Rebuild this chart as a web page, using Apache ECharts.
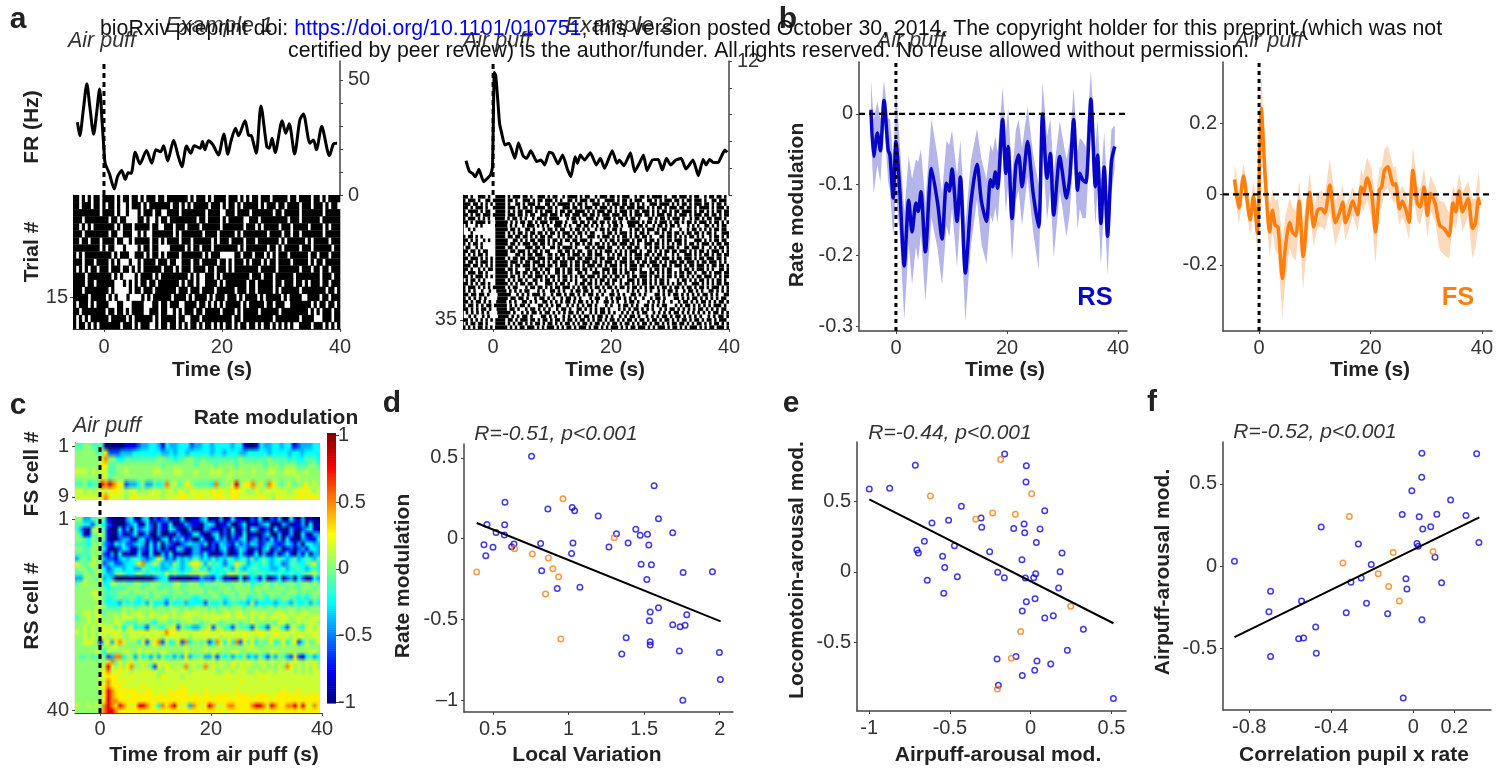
<!DOCTYPE html>
<html><head><meta charset="utf-8">
<style>html,body{margin:0;padding:0;background:#fff}#c{width:1506px;height:772px}</style>
<script src="https://cdn.jsdelivr.net/npm/echarts@6/dist/echarts.min.js"></script>
</head><body><div id="c"></div>
<script>
// ---------- DATA ----------
// [t, Hz]
const ex1Rate=[[-4.5,31.6],[-4.1,25.7],[-3.5,37],[-2.9,48.3],[-2.4,38.4],[-1.75,26.4],[-1.25,35.5],[-0.75,46],[-0.3,31],[0,19.6],[0.2,13.8],[0.9,9.4],[1.75,2.6],[2.3,8],[3,10.6],[3.6,6.8],[4.1,9.7],[4.6,9.4],[5.3,18.6],[6.1,13.5],[7.2,19.3],[8.1,13.8],[8.8,19.6],[9.6,18.8],[10.1,21.4],[10.8,14.8],[11.8,23.8],[12.6,16.7],[13.2,12.3],[14,21.3],[14.7,18.1],[15.3,21.4],[16.3,20.3],[16.7,23.2],[17.1,19.6],[17.7,23.6],[18.5,21.7],[19.4,17.4],[20.3,26.5],[21,17.7],[21.5,23.2],[22.3,29],[22.8,25.7],[23.9,32.3],[24.5,26],[25,25.7],[25.8,18.1],[26.6,38.7],[27.6,21],[28,20.3],[28.5,24.6],[29,18.4],[30.2,32.3],[30.8,26.8],[31.4,30.9],[32.3,17.8],[33.2,32.6],[33.8,35.2],[34.9,22.5],[35.5,23.9],[36,19.6],[36.9,29.7],[38.2,17.1],[38.9,22.2],[39.5,22.5]];
const ex2Rate=[[-4.6,30.7],[-4,20.9],[-3.5,19.4],[-3,16.4],[-2.4,23],[-1.6,11.9],[-0.45,17.9],[-0.1,25],[0.2,109.6],[0.45,107],[0.75,88],[1.1,64],[1.4,56.7],[2,44.8],[2.7,46.3],[3.7,32.8],[4.3,46.9],[5.1,34.9],[5.7,32.8],[6.4,39.7],[7.4,29.9],[8.1,31.3],[8.75,26.9],[9.5,38.2],[10.1,37.3],[11,27.8],[11.8,35.8],[12.6,23],[13.2,16.4],[13.9,34.3],[14.3,28.4],[14.8,35.8],[15.5,31.3],[16.5,37.9],[17.5,26.9],[18.2,32.8],[18.9,23.9],[20.2,39.7],[21,28.4],[21.4,31.3],[22.2,26.3],[23.3,37.9],[24,20.9],[24.8,28.4],[25.5,35.8],[26.1,21.8],[27,31.3],[28,31.9],[28.7,22.4],[29.4,32.8],[30.1,26.9],[31,31.3],[31.9,32.8],[32.7,23.3],[33.9,31.3],[34.8,17.3],[35.6,31.9],[36.1,26.9],[36.7,31.9],[37.4,29],[38.2,29.3],[39.3,40.3],[39.7,38.2]];
// [t, mean, half-width of shaded band]
const rsTrace=[[-4.5,.006,.042],[-4,-.06,.052],[-3.35,-.027,.045],[-2.8,-.052,.045],[-2.15,.019,.028],[-1.4,-.051,.045],[-1.08,-.058,.05],[-.5,-.119,.055],[0,-.039,.075],[.7,-.108,.065],[1.5,-.215,.076],[2.3,-.122,.062],[2.9,-.167,.075],[3.6,-.126,.062],[4,-.138,.07],[4.5,-.11,.06],[5.3,-.195,.07],[6.4,-.077,.07],[7.5,-.126,.065],[8.3,-.177,.065],[9.1,-.098,.06],[9.6,-.109,.065],[10.1,-.078,.055],[11,-.152,.065],[11.6,-.089,.052],[12.5,-.225,.068],[13.5,-.126,.06],[14.6,-.071,.05],[15.4,-.124,.06],[16.3,-.152,.06],[17,-.093,.05],[17.4,-.103,.05],[17.9,-.082,.05],[18.3,-.105,.05],[19.2,-.008,.045],[19.8,-.084,.055],[20.2,-.046,.055],[20.9,-.148,.06],[21.6,-.072,.05],[22.1,-.058,.05],[22.7,-.103,.055],[23.7,-.039,.05],[24.7,-.112,.055],[25.7,-.16,.06],[26.4,0,.045],[27.2,-.091,.06],[27.8,-.056,.05],[28.4,-.143,.06],[29.5,-.06,.05],[29.9,-.079,.05],[30.7,-.119,.055],[31.3,-.089,.05],[32,-.008,.045],[32.7,-.108,.055],[33.1,-.084,.05],[33.6,-.093,.055],[34.2,-.097,.05],[35.1,.021,.04],[35.9,-.103,.055],[36.3,-.058,.05],[36.9,-.155,.06],[37.5,-.075,.05],[38.1,-.173,.055],[38.8,-.067,.045],[39.4,-.046,.03]];
const fsTrace=[[-4.4,.042,.045],[-3.6,-.039,.045],[-2.8,.052,.035],[-2.3,.002,.04],[-1.6,-.072,.045],[-1,-.005,.04],[-.3,-.11,.06],[.4,.243,.1],[1.1,.049,.08],[1.9,-.107,.07],[2.4,-.045,.06],[2.9,-.088,.07],[3.4,-.093,.08],[4.2,-.239,.11],[4.7,-.154,.09],[5.5,-.08,.07],[6,-.107,.07],[6.6,-.118,.07],[7.2,-.02,.06],[7.9,-.176,.095],[9.1,.005,.055],[9.8,-.093,.055],[10.5,-.045,.05],[11.2,-.041,.05],[11.8,-.053,.05],[12.7,.026,.075],[13.7,-.081,.065],[14.5,-.05,.05],[15,-.022,.05],[15.5,-.081,.05],[16.2,-.05,.045],[16.8,-.019,.04],[17.7,-.058,.045],[18.3,.021,.05],[18.7,.002,.05],[19.4,.046,.06],[20.2,.002,.07],[20.9,-.107,.09],[21.6,.013,.06],[22,.021,.06],[22.5,.068,.06],[23.1,.078,.06],[24.1,.026,.05],[24.5,.03,.05],[25.2,-.041,.045],[25.7,-.02,.045],[26.3,-.041,.045],[26.9,-.079,.05],[27.6,.068,.065],[28.4,-.026,.05],[28.9,-.036,.05],[29.6,.021,.055],[30.2,-.06,.06],[30.8,.002,.05],[31.6,-.026,.05],[32.4,-.088,.07],[33.2,-.097,.075],[34.1,-.118,.065],[34.8,-.025,.05],[35.3,-.05,.05],[35.9,.009,.05],[36.5,-.05,.055],[37.5,-.012,.05],[38.3,-.097,.085],[38.8,-.083,.07],[39.4,-.012,.075],[39.6,-.031,.065]];
// scatter panels
const dBlue=[[.755,.51],[1.566,.327],[.579,.226],[.863,.183],[1.024,.193],[1.04,.173],[1.196,.14],[1.595,.123],[.46,.088],[.577,.086],[.52,.039],[.575,.023],[1.317,.031],[1.445,.058],[1.474,.021],[1.522,.027],[1.689,.037],[.44,-.037],[.5,-.053],[.623,-.049],[.639,-.033],[.815,-.029],[1.029,-.027],[1.267,-.051],[1.394,-.027],[1.531,-.039],[.452,-.105],[1.02,-.091],[1.48,-.158],[1.548,-.16],[.822,-.198],[1.758,-.208],[1.952,-.204],[1.518,-.251],[.925,-.307],[1.075,-.3],[1.595,-.426],[1.54,-.453],[1.782,-.469],[1.535,-.506],[1.689,-.531],[1.738,-.543],[1.771,-.535],[1.381,-.611],[1.54,-.636],[1.54,-.656],[1.352,-.712],[1.733,-.693],[1.998,-.702],[2.004,-.87],[1.756,-.998]];
const dOrange=[[.963,.247],[1.302,.006],[.643,-.062],[.76,-.095],[.866,-.119],[.896,-.185],[.934,-.235],[.392,-.206],[.848,-.342],[.949,-.619]];
const dFit=[[.392,.097],[2.006,-.51]];
const eBlue=[[-.161,.835],[-.714,.755],[-.027,.752],[-.029,.637],[-.999,.587],[-.873,.592],[-.429,.465],[.087,.434],[-.508,.366],[-.307,.382],[-.611,.347],[-.303,.316],[-.041,.34],[-.105,.307],[.058,.304],[-.037,.278],[-.658,.217],[.035,.208],[-.704,.156],[-.695,.134],[-.472,.186],[-.254,.144],[.194,.134],[-.545,.111],[-.054,.087],[-.532,.031],[-.204,-.002],[.182,.002],[.031,-.012],[-.454,-.033],[-.64,-.059],[-.163,-.04],[-.033,-.042],[.019,-.04],[.173,-.113],[-.538,-.151],[.027,-.189],[-.027,-.21],[-.052,-.276],[.14,-.309],[.087,-.325],[.326,-.406],[.227,-.554],[-.208,-.616],[-.091,-.599],[.039,-.63],[.124,-.651],[.025,-.696],[-.052,-.733],[-.2,-.802],[.512,-.896]];
const eOrange=[[-.186,.797],[.006,.554],[-.621,.538],[-.235,.417],[-.095,.408],[-.34,.373],[.248,-.243],[-.062,-.422],[-.12,-.611],[-.206,-.828]];
const eFit=[[-.999,.514],[.512,-.363]];
const fBlue=[[.042,.686],[.309,.684],[.041,.54],[-.007,.458],[.182,.402],[.115,.316],[-.054,.314],[.257,.308],[.029,.3],[.046,.225],[.085,.239],[-.449,.237],[-.268,.134],[.32,.144],[.018,.138],[.024,.12],[.106,.053],[-.872,.03],[-.205,.01],[-.254,-.073],[-.304,-.099],[-.036,-.077],[.138,-.101],[-.031,-.14],[-.696,-.154],[-.545,-.213],[-.228,-.227],[-.704,-.278],[-.327,-.284],[-.125,-.29],[.042,-.327],[-.476,-.371],[-.559,-.442],[-.535,-.438],[-.473,-.531],[-.696,-.55],[-.049,-.803]];
const fOrange=[[-.312,.302],[-.343,.018],[-.098,.083],[.096,.089],[-.171,-.047],[-.12,-.124],[-.068,-.213]];
const fFit=[[-.872,-.432],[.322,.296]];
// raster rows, '#' = spikes in that time bin
const rasterTrials1=[
"##.#.#.##.####.#.##.##.#.###.##.#######.#.###.#.####.###.#.#.##.###.#####.##.####.##.#.####",
"##.###.##.#.##.#..#.###.#.#######.##.#.#.#####.###.#.##.#.#####.#.###.##.####.###.###.#.##.",
"#########.####.#..#...#.###.##..####.########.####..###.####.#######.##.#####.#######.#####",
"###.########.##.##....##.#..#.##.#########.##.####.#.#####..###.#########.###.######.######",
"##.#.#.#######.#.###.#####.##..###.###.####.######.#######.###.#.#####.###.#####.####.#.###",
"###.########.##..###..#.#..#######.#.#######.####.#####.#.########.####.##.##.#######.#####",
"##.##.###.####.##..#.#####.##.#.####.###.######.#.###.####.###.#######.#.######.#.#####.###",
"#########.#.##...#....#.##.##....#####.#.##.###.########.#.#######.##.#.#####.###.######.##",
"#.#.#########.#.###..###.#.##.#.####.#######.#.###.....##.###.###.#.#.###.######.##.###.###",
"###.###.####.#.#...#..#.####.###.##..###.##.#####.##.#.###.#.###.#.##.####.#####.#.##.#####",
"#.#.#.##.###.###.##.#.#.######.###.#.###.####.##.###.#.########.#####.#######.###.##.##.###",
"####.########.#.#....#.####.#.#########.#.#..###.#.#########.###.###.######.########.###.##",
"####.##.######...#.#.#.##.##.#######.#.##.#..####.#.#######.##.#####.##.###.##.#.###.##.###",
"###.########.#.....#.##.###.#######.###.###.####.######.###.##.#####.#.######.########.##.#",
"#####.#####.#.#...#....#.#.######.####.#.####.#.###.###.#.####.#.#####.#.####..####.##.###",
"#.###.#.####...##...####...##.##.###..####.##.#.#.#.#####.#.#####.##.###..#######.#.##.##.#",
"##.########.##.##.#.####..###.##..#.#.###.##.#####.####.#.#####.######.#########.#.#.###.##",
"#.#.#.######.#####.#.######.#.#####.##..###.##########.##.##########.########.####...###.##",
"#.##.#.#.#######.###.#.###..#.##.##.#.#.##.#.##.#.#.##.#.##.##.#.##.#.#.#.#..####.###.#.#.#"
];
const rasterTrials2=[
"##.#..###.#..####.#.###.##.#..###.#.##..#.####.#.##..#.###.##.#.###..#.##.#.####.#..##.###.#.##..#.##.##.#.",
"#.###.#..##.#####.##.#..###.#.##.###.#.#..##.#.###.##.#..####.#.##.#.###..##.#.#.###.##.#.##.###.#..##.###.",
"###.##.#.#.#.####.#..##.#.###.#..##.#.#####.#.##.#..###.#.#.###.##.##.#.#..###.####.#.#.##.#.###.##.#.##.#.",
"##.#.###.#..#####.###.#.##.#.####.##.#..###.##.#.###.#.###.#.#.##.###.###.#.#.##.#.###.##.##.#.####.#.###.#",
"#.####.#.##..####.#.#.##.###.#.#.###.#.##.##.####.#.#.###.##.#.###.#.##.###.#.#.##.#.##.####.#.##.#.#.##.##",
"##.#.##.###.#####.###.##.#.##..###.###.#.##.###.##.##.#.###.###.##.#.###.##.#.###.##.#.###.#.###.##.##.#.##",
"#.###.#.#.#..####.#.##.#.#..#.##.#.####...#.##.#..###.#..###.#.##.#.##.#...##.#.##.#.###.#..#.##.#.##.###.#.",
"##.#.####.#..#####.#.#.##.##.#.###.#.###.#..##.##.#.##.##.#.##.#..#####.#.##.#.###.#.##.#.##.#.###.#.##.#.#",
".#...#.#.....#####.#.#..#.###.#.#.#..###.#.#..##.##.#.#.#..#.##.#..###.##.#..#.##.#.##.#...#.#.#..##.#.#.##.",
"..#.#........#####.##.#..##.#...#.##.#.##..#.##.#.#..#.##.#.##.#...#.##.#.###.#.##.#...#..#.##.#.#.#.##.##.",
"...#.........####.#.#.##.#.##.##.#.##.#.###.#.##.#.##...#.##.#.###.#.#.##.#..##.#.##.##.#.##.##.#.##.#..###",
"#.##.#.#.....####.##.##.##.#.#.##.##..#.#.##.#.#..###.#.###.#.#.##.#.##.##.#...##.##.#.#.#.##.#.#..#.##.#.#",
"##.#.#..#.#..#####..##.#.#.##.###.#.##.#.##.##.###.#...#.#.##.#.###.#.##.#.##.#.#.##.###.#...###.#.#.##.##.",
"#.#.##.#.....#####.##.#.###.##.##.#.#.##...#.##.#.##.##.#.#.##.###.##.#..###.##.#.#.#.##.#.##.#.###.#.##.##",
".##..#.#.....####.##.#...###.##.#..##.#.####.#...##.#.###.##..#.#.##.##..#.#.##.#.###.#..##.###.#..#.#.##.#",
"##.##.#.##...#####.##.###.#.##.#.##...##.##.#.##..##.#.#.###.#.#.#.###.#..##.#.#.##.##.###.#.#.##.#.###.#.#",
"#.#.#.##.#...#####...##.#.##.###..##.#.##.#.###.#.##.###..#.#.##.#.#.###.##.#.##.#..#.#..###.#.#.##.#.##.##",
"##.###.#.#.#.####.#.##.##.###.###.##.##.#.###.##.###.#.##.###.#.##.#.###.#.#.##.###.#.##.###.#.##.###.##.#.",
"#.##.#.###.#.#####.###.#.##.###.#.#.##.###.#.##.###.##.#.###.#.###.##.#.##.###.#.#.###.##.###.#.##.###.#.#.",
"###.##.#.#.#.#####.#.##.###.#.###.##.#.###.#.##.#.###.##.#.###.#.#.###.##.#.###.##.#.###.#.##.###.#.##.##.#",
"##.#..#.#.##.####.##.#...##.##.#.##..##.#.##.##.##.#.#..###.##.#.#.###.#...#.##.#.##...#.##.#.###.#.#..##.#",
"#.###.##.#...#####.#.##.##.#.##.#.#..##.#.##..##.#..###.#.#.##.#.##.#..###.##.#.#.##.#.##.##.#..##.#.###.##",
"##.#.###.#.#.#####.##.#.#.##.###.#.##.#.##.#.#.##.###.#.##.#.##.#.#.##.###.#.##.#.##.#.##.#.#.##.###.#.#.##",
".#.##.#.#....####.#.#.##.#..##.#.##.#.#.##.#.#..##.#.#.##.#.##.#..###.#.##.#.#.##.#...#.##.#.#.##.#.#.##.#.",
"##.#.#.##.#..#####.#.#.##.##.#...###.#.##.#..#.##.##.#.#.##.#..#.##.#.#.##.#.#.##.#.#.##.#..###.#.#.#.##.##",
"#.###.#.#.#.#####.#.##...#.##.##.#.#.##.###.#.#.##.#.##.#.##.#.##.#.##.#.#.##.#.##.#.##.#.##.#.##.#.###.#.#",
"#.#.#..#..#..####.#.#.#.##...#.#..##.#.#..#.##.##.#..#.#..#.#...#.#.#..#.#..#.#.##.#..#.##.#.#..##.#.#.#",
"##.##.##.#...#####..#.#.#.###.#..#.##.#.##.#.#.##.#.#..##.#.#..##.#.#...##.#.#.##.#.#.#.#.##.#.#..##",
"#.#.#.#.#....####.##.##.#..#.##.#.#..#.##.#.#...#.##..#.#.##.#.#.#..#..#.##.#...##.#.#.##.#.#.#.#.##.",
"##.#.##.#.#..####.#.#..##.#.#..##.#.#.#.##.#.##.#.#.#..##.#.#..#.##.#...#.#.#.#..#..#.##.#.#.##.#.#.##.#",
"#.##.#.#.##.#####.#.#.##.#...##.#.#.##..#.#.#.#.##.#...#.#..#.##.#.#..##.#.#.##...#.#.##.#.#.#.#.###.#.",
"##.#.#.##.#..####.##.#..#.##.#.#.#..#.##.#..##.#.#.#.##.#...#.#.#.##.#.#.#..#.#.##.#.#.#.#.##.#.#.#.##.",
".#.#.#.#.#...#####.#..#.#.##.#.##.#.#.#.##.#.#..#.#.##.#.#..#.#.#.#.##..#.#.#.#.##.#.#.#.#.#.#.##.#.#",
"..#.#..#.#...####.#.#.##.#...##.#.#..#.#.#.#.##.#.##.#.#..#.#.##.#..#.#.#.##.#.##.#.#.#.#..#.#.##.#",
"##.#.#.#.#.#.####.##.#.###.##.#.##.#.##.#.##.#.##.#.#.##.#.##.#.#.##.#.##.#.##.#.##.#.#.##.#.##.#.##.#.###.",
".#.##.##.#...####.#.#.##.#.#.##.#.##.#.#.##.#.#.##.#.##.#.#.##.#.##.#.#.##.#.##.#.#.##.##.#.#.##.#.#.##.#.#",
"#.#.#.##.#.#.#####.#.#.##.###.#.#.###.#.#.##.#.###.#.##.#.#.###.#.#.##.###.#.#.###.#.##.#.#.###.#.#.##.###.#"
];
// heat levels per cell (index into heatLevels) for panel c
const heatLevels=[-1,-.8,-.6,-.4,-.25,-.1,.03,.15,.28,.5,.8];
const fsHeatRows=[
"556655500000111233443143344423344344443441001433443441233344",
"666665582223334444444334344344444344344433444443444434434444",
"666666796644555555556655455665565555555565555556555545445554",
"666666885566666666666566666665666656666566666656665666555665",
"777676775566766666677666776667666777667676676667766777667666",
"666666775666666666666666666666666666676666666666666666766666",
"556455a9a98723346335459675686555495667a68896859865675668676",
"776767777887677666777677677687777878778877668677777767788767",
"777777898777678777777677788777877788778877777877687777887887"
];
const rsHeatRows=[
"66335565100003410340212301040013401030141100214002130041030100",
"55442554210002341042031140013210343011300240102340003201130401",
"53106765100413042342031043100300321102040130430120410031023410",
"64015675100310240130030010310141003402031040100240030130041033",
"66546565100233103412003403241204101423021340230214130410032114",
"55546663214342234304140321023432402143214232431243212431304433",
"66556664100243103214130201431031012034102431020340230120231443",
"55556662130401014104003140100132410013001420140301302410314033",
"35647663221343454323485232434353435343543453534543454345345435",
"76567662342234458945753436534786364542458653454643442355445684",
"66656664234434433554443345434464535445436434554443345345543454",
"55665764335654456545554756545667654454766565455545454454455675",
"33666573430000000000234401000013221430100402431401240230420143",
"56766674476565566556665556755664656665566656455665655665566575",
"66666665455556666566655656656666565566656666566665666566566656",
"66667775555666566665666656665666566656665666566566665666565666",
"66666765455655654565665456556545656654565664556546556655454565",
"66666675444354544536444254453444254453455443634444345435445354",
"66666766555566656666566566656566656566566656656566565666565666",
"66776765666676677667766767667776767667767766776766777676677666",
"56676776667677767767677767677767777777767776767767777767776777",
"66676776667765556665466656566765667656666566766666577666767776",
"66767677775746745426654677265435672665426554265426764267547767",
"76767677778767777877778988777777877787777787788777877777777777",
"66767677677766777677776777777677777767777777767767777767776777",
"66787616838986664826892745829465624974849285846568458468247567",
"66666666677666667666766666667666766676666667766666667666667666",
"66666764766677667677667766667666767766677666676667766676666776",
"65565556239946636453636453538356336254535463436425365328214534",
"66666666895767767776777767677777777677677777767767767677767776",
"66666667a7686896765286876769676696867668677766766676986767686",
"66666668977877677787766777777677777667767776677677677776767677",
"66666678888777877777768777767777777777877777777877777777777777",
"66666667988787777777777777777777777777777877777777777777777777",
"66666678988877777877777777787777777777777777777777777777777777",
"66666668a98888887788777787888777877777778777777777778777877777",
"66666668a98887888888788788888787887888878888788887888888878888",
"66666668a99888888888888888888888888888888888888888888888888888",
"76676769a98a9878aa9874989a87739878a97789988889aa97a98899a8a8798",
"66666669aa9888888888888888888888888887888888888888888888888888"
];
const xTicks40=[0,20,40];
const colorbarLabels=[-1,-.5,0,.5,1];
const topLine1A="bioRxiv preprint doi: ", topLink="https://doi.org/10.1101/010751", topLine1B="; this version posted October 30, 2014. The copyright holder for this preprint (which was not";
const topLine2="certified by peer review) is the author/funder. All rights reserved. No reuse allowed without permission.";

// ---------- STYLE ----------
const FONT='"Liberation Sans",Arial,sans-serif';
const BLUE='#0606c4', BLUEBAND='#b5b5ea', ORANGE='#ff7f0e', ORANGEBAND='#fdd9bb', SBLUE='#1208e0', SORANGE='#f57f17';
const option={animation:false,backgroundColor:'#fff',textStyle:{fontFamily:FONT},grid:[],xAxis:[],yAxis:[],series:[]};
function panel(o){
  const i=option.grid.length;
  option.grid.push({left:o.l,top:o.t,width:o.r-o.l,height:o.b-o.t,containLabel:false});
  const line={color:'#444',width:o.lw||1.5};
  const mk=(ticks,labels,fmt,margin,show)=>({
    type:'value',show:true,splitLine:{show:false},
    axisLine:{show:show,onZero:false,lineStyle:line},
    axisTick:{show:show&&!!ticks,customValues:ticks||[],length:3,lineStyle:{color:'#444',width:1}},
    axisLabel:{show:show&&!!(labels||ticks),customValues:labels||ticks||[],margin:margin,fontSize:20,color:'#333',fontFamily:FONT,formatter:fmt||(v=>String(v))}
  });
  option.xAxis.push(Object.assign(mk(o.xt,o.xl,o.xf,o.xm||7,o.showX!==false),{gridIndex:i,min:o.x0,max:o.x1,position:'bottom'}));
  option.yAxis.push(Object.assign(mk(o.yt,o.yl,o.yf,o.ym||6,o.showY!==false),{gridIndex:i,min:o.y0,max:o.y1,position:o.ypos||'left',inverse:!!o.inv}));
  return i;
}
function addLine(g,data,color,w,extra){
  option.series.push(Object.assign({type:'line',xAxisIndex:g,yAxisIndex:g,data:data,showSymbol:false,silent:true,clip:false,lineStyle:{color:color,width:w},itemStyle:{color:color}},extra||{}));
}
function dash(g,data,w,d,z){ addLine(g,data,'#000',w,{lineStyle:{color:'#000',width:w,type:d},z:z||5}); }
function band(g,trace,fill){
  const pts=trace.map(r=>[r[0],r[1]-r[2],r[1]+r[2]]);
  option.series.push({type:'custom',xAxisIndex:g,yAxisIndex:g,silent:true,z:1,data:pts,encode:{x:0,y:[1,2]},
    renderItem:(p,api)=>{
      if(p.dataIndex!==0)return null;
      const up=pts.map(r=>api.coord([r[0],r[2]])), lo=pts.slice().reverse().map(r=>api.coord([r[0],r[1]]));
      return {type:'polygon',shape:{points:up.concat(lo)},style:{fill:fill}};
    }});
}
function rects(g,data,colorFn,pad){
  option.series.push({type:'custom',xAxisIndex:g,yAxisIndex:g,silent:true,z:2,data:data,encode:{x:[0,1],y:2},
    renderItem:(p,api)=>{
      const a=api.coord([api.value(0),api.value(2)-.5]), b=api.coord([api.value(1),api.value(2)+.5]);
      const x=Math.min(a[0],b[0]),y=Math.min(a[1],b[1]);
      return {type:'rect',shape:{x:x,y:y,width:Math.abs(b[0]-a[0])+pad,height:Math.abs(b[1]-a[1])+pad},style:{fill:colorFn?colorFn(api.value(3)):'#000'}};
    }});
}
function rasterData(rows,t0,t1){
  const out=[];
  rows.forEach((s,r)=>{const w=(t1-t0)/s.length;let st=-1;
    for(let i=0;i<=s.length;i++){const on=s[i]==='#';
      if(on&&st<0)st=i;
      if(!on&&st>=0){out.push([t0+st*w,t0+i*w,r+1]);st=-1;}
    }});
  return out;
}
function jet(v){
  const t=(v+1)/2, c=x=>Math.round(255*Math.max(0,Math.min(1,1.5-Math.abs(4*t-x))));
  return 'rgb('+c(3)+','+c(2)+','+c(1)+')';
}
// heat rows go into a small bitmap, one pixel per cell, which the canvas scales with
// bilinear smoothing like the reference; its corners come from the axes via api.coord
function heatImage(g,rows,t0,t1){
  const W=Math.max.apply(null,rows.map(s=>s.length)),cv=document.createElement('canvas');
  cv.width=W;cv.height=rows.length;
  const ctx=cv.getContext('2d');
  rows.forEach((s,r)=>{for(let i=0;i<s.length;i++){
    const x0=Math.round(i*W/s.length),x1=Math.round((i+1)*W/s.length);
    ctx.fillStyle=jet(heatLevels[parseInt(s[i],16)]);ctx.fillRect(x0,r,x1-x0,1);}});
  option.series.push({type:'custom',xAxisIndex:g,yAxisIndex:g,silent:true,z:2,data:[[t0,t1,.5,rows.length+.5]],encode:{x:[0,1],y:[2,3]},
    renderItem:(p,api)=>{
      const a=api.coord([api.value(0),api.value(2)]),b=api.coord([api.value(1),api.value(3)]);
      return {type:'image',style:{image:cv,x:a[0],y:a[1],width:b[0]-a[0],height:b[1]-a[1]}};
    }});
}
function scatter(g,blue,orange,fit){
  const s=(d,c)=>option.series.push({type:'scatter',xAxisIndex:g,yAxisIndex:g,data:d,symbol:'circle',symbolSize:5.5,silent:true,z:3,itemStyle:{color:'rgba(255,255,255,0)',borderColor:c,borderWidth:1.5}});
  s(blue,SBLUE); s(orange,SORANGE);
  addLine(g,fit,'#000',2,{z:4});
}

// ---------- PANEL a ----------
const xT=-5.25, g1=panel({l:73,r:340,t:61,b:195,x0:xT,x1:40,y0:0,y1:58.2,ypos:'right',showX:false,yt:[0,10,20,30,40,50],yl:[0,50],ym:8});
addLine(g1,ex1Rate,'#000',3,{smooth:.25}); dash(g1,[[0,0],[0,58.2]],3,[5,4]);
const g2=panel({l:73,r:340,t:195,b:329,x0:xT,x1:40,y0:.5,y1:19.5,inv:true,xt:xTicks40,xm:8,yt:[15],ym:5,lw:1});
rects(g2,rasterData(rasterTrials1,xT,40),null,.3);
const g3=panel({l:463,r:729,t:61,b:195,x0:-5.1,x1:40,y0:0,y1:120,ypos:'right',showX:false,yt:[0,24,48,72,96,120],yl:[120],yf:()=>'12',ym:8});
addLine(g3,ex2Rate,'#000',3,{smooth:.15}); dash(g3,[[0,0],[0,120]],3,[5,4]);
const g4=panel({l:463,r:729,t:195,b:329,x0:-5.1,x1:40,y0:.5,y1:37.5,inv:true,xt:xTicks40,xm:8,yt:[35],ym:6,lw:1});
rects(g4,rasterData(rasterTrials2,-5.1,40),null,0);

// ---------- PANEL b ----------
const g5=panel({l:859,r:1127,t:62,b:331,x0:-6.65,x1:41.6,y0:-.307,y1:.0735,xt:xTicks40,yt:[0,-.1,-.2,-.3]});
band(g5,rsTrace,BLUEBAND);
addLine(g5,rsTrace.map(r=>[r[0],r[1]]),BLUE,3.5,{smooth:.25,z:3});
dash(g5,[[-6.65,0],[41.6,0]],2.2,[6,4]); dash(g5,[[0,-.307],[0,.0735]],3,[4,4]);
const g6=panel({l:1223,r:1492,t:62,b:331,x0:-6.47,x1:41.8,y0:-.3875,y1:.375,xt:xTicks40,yt:[.2,0,-.2]});
band(g6,fsTrace,ORANGEBAND);
addLine(g6,fsTrace.map(r=>[r[0],r[1]]),ORANGE,3.5,{smooth:.25,z:3});
dash(g6,[[-6.47,0],[41.8,0]],2.2,[6,4]); dash(g6,[[0,-.3875],[0,.375]],3,[4,4]);

// ---------- PANEL c ----------
const g7=panel({l:75,r:322,t:443,b:500,x0:-4.5,x1:40,y0:.5,y1:9.5,inv:true,showX:false,yt:[1,9],lw:1.2});
heatImage(g7,fsHeatRows,-4.5,39.7);
const g8=panel({l:75,r:322,t:517,b:713,x0:-4.5,x1:40,y0:.5,y1:40.5,inv:true,xt:xTicks40,xm:6,yt:[1,40],lw:1.2});
heatImage(g8,rsHeatRows,-4.5,39.7);
const g9=panel({l:75,r:322,t:443,b:713,x0:-4.5,x1:40,y0:0,y1:1,showX:false,showY:false});
dash(g9,[[0,0],[0,1]],3,[5,4],6);
const cbSteps=[];for(let k=0;k<128;k++)cbSteps.push([0,1,-1.007+(k+.5)*2.027/128,-1+(k+.5)*2/128]);
const g10=panel({l:327,r:336,t:433,b:703,x0:0,x1:1,y0:-1.007,y1:1.02,showX:false,ypos:'right',yl:colorbarLabels,yt:colorbarLabels,ym:2,lw:0.01});
option.series.push({type:'custom',xAxisIndex:g10,yAxisIndex:g10,silent:true,data:cbSteps,encode:{x:[0,1],y:2},
  renderItem:(p,api)=>{const h=2.027/128,a=api.coord([0,api.value(2)+h/2]),b=api.coord([1,api.value(2)-h/2]);
    return {type:'rect',shape:{x:a[0],y:a[1],width:b[0]-a[0],height:b[1]-a[1]+.6},style:{fill:jet(api.value(3))}};}});

// ---------- PANELS d e f ----------
const g11=panel({l:464,r:733,t:444,b:712,x0:.308,x1:2.088,y0:-1.07,y1:.585,xt:[.5,1,1.5,2],yt:[.5,0,-.5,-1],yf:v=>v===-1?'–1':String(v)});
scatter(g11,dBlue,dOrange,dFit);
const g12=panel({l:857,r:1126,t:442,b:711,x0:-1.075,x1:.59,y0:-.984,y1:.92,xt:[-1,-.5,0,.5],yt:[.5,0,-.5]});
scatter(g12,eBlue,eOrange,eFit);
const g13=panel({l:1223,r:1491,t:442,b:710,x0:-.928,x1:.379,y0:-.876,y1:.755,xt:[-.8,-.4,0,.2],yt:[.5,0,-.5]});
scatter(g13,fBlue,fOrange,fFit);

// ---------- TEXT ----------
const els=[];
function T(x,y,s,o){o=o||{};
  els.push({type:'text',x:x,y:y,rotation:o.rot?Math.PI/2:0,z:o.z||50,silent:true,style:{text:s,fill:o.c||'#222',font:(o.it?'italic ':'')+(o.b?'bold ':'')+(o.fs||21)+'px '+FONT,textAlign:o.a||'center',textVerticalAlign:'middle'}});
}
[['a',18,20],['b',788,20],['c',18,406],['d',392,404],['e',791,404],['f',1152,403]].forEach(p=>T(p[1],p[2],p[0],{b:1,fs:30,c:'#222'}));
T(219,26,'Example 1',{it:1,fs:22.8,c:'#333'});T(619,26,'Example 2',{it:1,fs:22.8,c:'#333'});
[[102,41],[497,41],[911,41],[1269,41],[107,426]].forEach(p=>T(p[0],p[1],'Air puff',{it:1,fs:21.5,c:'#333'}));
T(276,418,'Rate modulation',{b:1});
T(32,127,'FR (Hz)',{b:1,rot:1});T(32,252,'Trial #',{b:1,rot:1});
T(32,474,'FS cell #',{b:1,rot:1});T(32,606,'RS cell #',{b:1,rot:1});
T(797,205,'Rate modulation',{b:1,rot:1});T(403,576,'Rate modulation',{b:1,rot:1});
T(797,570,'Locomotoin-arousal mod.',{b:1,rot:1});T(1163,572,'Airpuff-arousal mod.',{b:1,rot:1});
T(212,370,'Time (s)',{b:1});T(605,370,'Time (s)',{b:1});T(1005,370,'Time (s)',{b:1});T(1370,370,'Time (s)',{b:1});
T(214,755,'Time from air puff (s)',{b:1});T(587,755,'Local Variation',{b:1});T(998,755,'Airpuff-arousal mod.',{b:1});T(1354,755,'Correlation pupil x rate',{b:1});
T(1095,298,'RS',{b:1,fs:25.5,c:BLUE});T(1458,298,'FS',{b:1,fs:25.5,c:ORANGE});
T(556,434,'R=-0.51, p<0.001',{it:1,c:'#333'});T(950,433,'R=-0.44, p<0.001',{it:1,c:'#333'});T(1315,432,'R=-0.52, p<0.001',{it:1,c:'#333'});
const TOPF='21.3px '+FONT;
els.push({type:'text',x:100,y:29,z:60,silent:true,style:{text:'{k|'+topLine1A+'}{l|'+topLink+'}{k|'+topLine1B+'}',textAlign:'left',textVerticalAlign:'middle',rich:{k:{fill:'#111',font:TOPF},l:{fill:'#0000ee',font:TOPF}}}});
els.push({type:'text',x:288,y:51,z:60,silent:true,style:{text:topLine2,fill:'#111',font:TOPF,textAlign:'left',textVerticalAlign:'middle'}});
option.graphic={elements:els};

const chart=echarts.init(document.getElementById('c'),null,{width:1506,height:772});
chart.setOption(option);
</script></body></html>
